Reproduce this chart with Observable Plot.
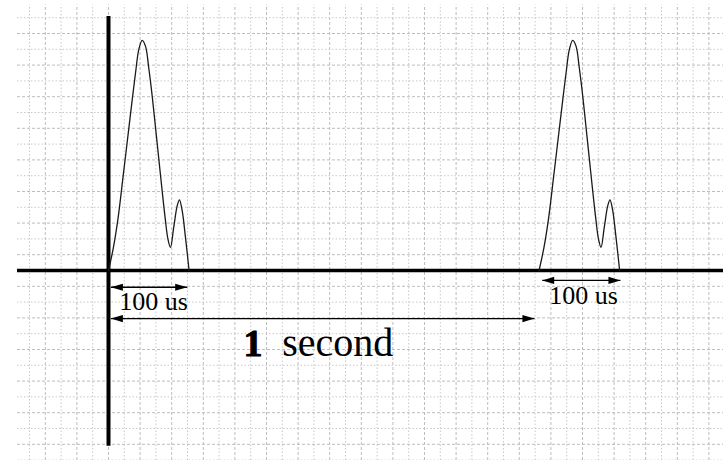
<!DOCTYPE html>
<html>
<head>
<meta charset="utf-8">
<script src="https://cdn.jsdelivr.net/npm/d3@7"></script>
<script src="https://cdn.jsdelivr.net/npm/@observablehq/plot@0.6"></script>
<style>
  html, body { margin: 0; padding: 0; background: #fff; }
  #chart svg { display: block; }
</style>
</head>
<body>
<div id="chart"></div>
<script>
// ---- Data (grid units: 1 unit = one graph-paper square) ----
// Pulse shape: time offset from pulse start, amplitude
const pulseT = [0, 0.30, 0.59, 0.93, 1.18, 1.50, 1.71, 1.92, 2.13, 2.34, 2.55, 2.77, 2.98, 3.19, 3.40, 3.60, 3.76, 3.92, 4.13, 4.35, 4.49, 4.66, 4.87, 5.1];
const pulseA = [0, 1.4, 3.2, 6.0, 8.1, 10.8, 12.5, 14.0, 14.56, 14.2, 12.8, 11.0, 9.0, 7.0, 5.0, 3.2, 2.0, 1.47, 2.74, 4.11, 4.47, 3.80, 2.11, 0];
// Start time of each repeated pulse
const pulseStarts = [0, 27.25];

// Dimension arrows (double headed)
const arrowX1 = [0.15, 27.45, 0.15];
const arrowX2 = [4.98, 32.4, 26.96];
const arrowY  = [-1.06, -0.63, -3.04];

// Labels
const labelText = ["100 us", "100 us"];
const labelX = [2.85, 30.06];
const labelY = [-2.53, -2.09];
const secondNum = "1";
const secondWord = "second";
const secondX = [9.15, 10.99];
const secondY = -5.38;

// Graph paper extent
const gridXs = d3.range(-5, 39);
const gridYs = d3.range(-12, 17);

// ---- Build tables ----
const pulses = pulseStarts.flatMap((s, i) =>
  pulseT.map((t, j) => ({pulse: i, x: s + t, y: pulseA[j]})));
const spans = arrowX1.map((x1, i) => ({x1, x2: arrowX2[i], y: arrowY[i]}));
const heads = spans.flatMap(d => [{x: d.x1, y: d.y, rot: 180}, {x: d.x2, y: d.y, rot: 0}]);
const labels = labelText.map((t, i) => ({text: t, x: labelX[i], y: labelY[i]}));

const arrowHead = {
  draw(context) {
    context.moveTo(0, 0);
    context.lineTo(-12, -3.6);
    context.lineTo(-12, 3.6);
    context.closePath();
  }
};

const U = 15.8; // pixels per grid unit
const W = 723, H = 460;
const x0 = 108, y0 = 270; // origin position in pixels
const xMin = -x0 / U, xMax = (W - x0) / U;
const yMin = -(H - y0) / U, yMax = y0 / U;

const serif = "'Liberation Serif', 'Times New Roman', serif";

const chart = Plot.plot({
  width: W,
  height: H,
  margin: 0,
  style: {background: "#fff"},
  x: {domain: [xMin, xMax], axis: null},
  y: {domain: [yMin, yMax], axis: null},
  marks: [
    // graph paper
    Plot.ruleX(gridXs.filter(k => k % 2 !== 0), {y1: yMin, y2: 16.8, stroke: "#c8c8c8", strokeWidth: 1, strokeDasharray: "1.5,2"}),
    Plot.ruleX(gridXs.filter(k => k % 2 === 0), {y1: yMin, y2: 16.8, stroke: "#bdbdbd", strokeWidth: 1, strokeDasharray: "3,2"}),
    Plot.ruleY(gridYs.filter(k => k % 2 === 0), {x1: -5.76, x2: xMax, stroke: "#c8c8c8", strokeWidth: 1, strokeDasharray: "1.5,2"}),
    Plot.ruleY(gridYs.filter(k => k % 2 !== 0), {x1: -5.76, x2: xMax, stroke: "#bdbdbd", strokeWidth: 1, strokeDasharray: "3,2"}),
    // axes
    Plot.ruleY([0], {x1: -5.76, x2: xMax, stroke: "#000", strokeWidth: 3.5}),
    Plot.ruleX([0], {y1: -11.12, y2: 16.08, stroke: "#000", strokeWidth: 4}),
    // pulses
    Plot.line(pulses, {x: "x", y: "y", z: "pulse", curve: "catmull-rom", stroke: "#1a1a1a", strokeWidth: 1.3}),
    // dimension arrows
    Plot.link(spans, {x1: "x1", x2: "x2", y1: "y", y2: "y", stroke: "#000", strokeWidth: 1.3}),
    Plot.dot(heads, {x: "x", y: "y", symbol: arrowHead, rotate: "rot", fill: "#000", stroke: "none", r: 4}),
    // labels
    Plot.text(labels, {x: "x", y: "y", text: "text", fontSize: 26, fontFamily: serif, fill: "#000", lineAnchor: "bottom", textAnchor: "middle"}),
    Plot.text([secondNum], {x: secondX[0], y: secondY, text: d => d, fontSize: 38, fontWeight: 900, fontFamily: serif, fill: "#000", stroke: "#000", strokeWidth: 1, lineAnchor: "bottom", textAnchor: "middle"}),
    Plot.text([secondWord], {x: secondX[1], y: secondY, text: d => d, fontSize: 40, fontFamily: serif, fill: "#000", lineAnchor: "bottom", textAnchor: "start"})
  ]
});
document.getElementById("chart").appendChild(chart);
</script>
</body>
</html>
